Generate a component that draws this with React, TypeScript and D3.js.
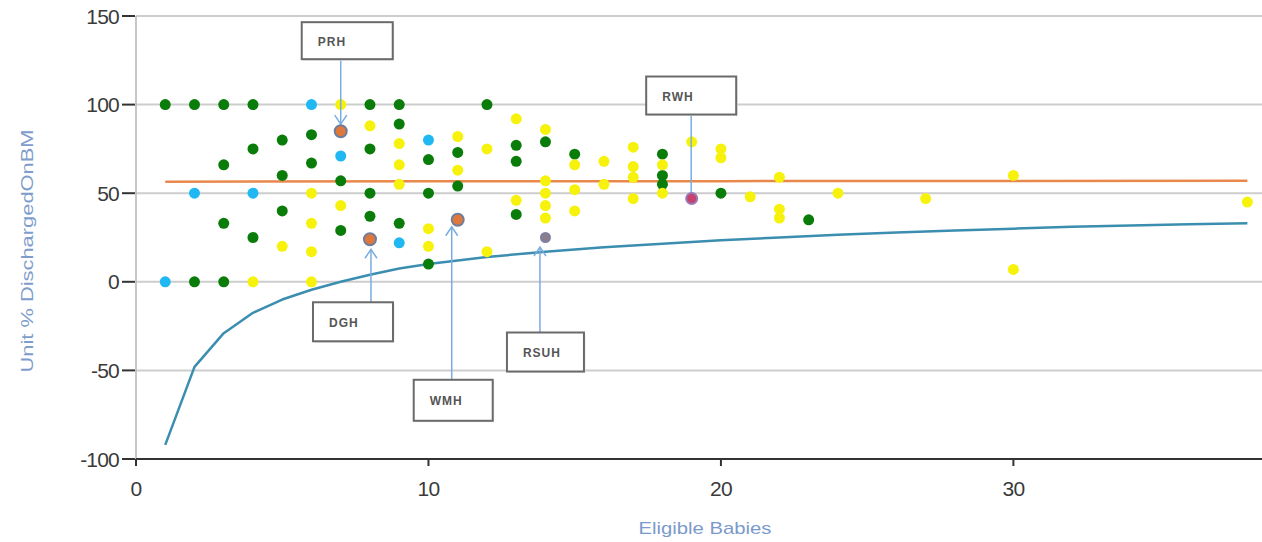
import React from "react";
import * as d3 from "d3";

const W = 1262;
const H = 542;

// ---- data ----
const greenPoints: [number, number][] = [
  [1, 100], [2, 100], [3, 100], [4, 100], [2, 0], [3, 0],
  [3, 66], [3, 33], [4, 75], [4, 25],
  [5, 80], [5, 60], [5, 40],
  [6, 83], [6, 67],
  [7, 57], [7, 29],
  [8, 100], [8, 75], [8, 50], [8, 37],
  [9, 100], [9, 89], [9, 33],
  [10, 69], [10, 50], [10, 10],
  [11, 73], [11, 54],
  [12, 100],
  [13, 77], [13, 68], [13, 38],
  [14, 79],
  [15, 72],
  [18, 72], [18, 60], [18, 55],
  [20, 50],
  [23, 35],
];

const cyanPoints: [number, number][] = [
  [1, 0], [2, 50], [4, 50], [6, 100], [7, 71], [9, 22], [10, 80],
];

const yellowPoints: [number, number][] = [
  [4, 0], [5, 20],
  [6, 50], [6, 33], [6, 17], [6, 0],
  [7, 100], [7, 43],
  [8, 88],
  [9, 78], [9, 66], [9, 55],
  [10, 30], [10, 20],
  [11, 82], [11, 63],
  [12, 75], [12, 17],
  [13, 92], [13, 46],
  [14, 86], [14, 57], [14, 50], [14, 43], [14, 36],
  [15, 66], [15, 52], [15, 40],
  [16, 68], [16, 55],
  [17, 76], [17, 65], [17, 59], [17, 47],
  [18, 66], [18, 50],
  [19, 79],
  [20, 75], [20, 70],
  [21, 48],
  [22, 59], [22, 41], [22, 36],
  [24, 50],
  [27, 47],
  [30, 60], [30, 7],
  [38, 45],
];

const hospitalNames = ["PRH", "DGH", "WMH", "RSUH", "RWH"];
const hospitalX = [7, 8, 11, 14, 19];
const hospitalY = [85, 24, 35, 25, 47];

const meanLine: [number, number][] = [[1, 56.5], [10, 56.8], [20, 56.8], [38, 57]];

const lowerLimit: [number, number][] = [
  [1, -92], [2, -48], [3, -29], [4, -17.5], [5, -10], [6, -4.5], [7, 0],
  [8, 4], [9, 7.5], [10, 10], [12, 14], [14, 17], [16, 19.5], [18, 21.5],
  [20, 23.5], [22, 25], [24, 26.5], [26, 27.8], [28, 29], [30, 30],
  [32, 31], [34, 31.8], [36, 32.5], [38, 33],
];

const yTicks = [-100, -50, 0, 50, 100, 150];
const xTicks = [0, 10, 20, 30];

// ---- layout / styles ----
const hlStyle: Record<string, { fill: string; stroke: string; r: number }> = {
  PRH: { fill: "#e0783c", stroke: "#6f7d9c", r: 6 },
  DGH: { fill: "#e0783c", stroke: "#6f7d9c", r: 6 },
  WMH: { fill: "#e0783c", stroke: "#6f7d9c", r: 6 },
  RSUH: { fill: "#8c7d8e", stroke: "#7d7f9e", r: 4.5 },
  RWH: { fill: "#c8426e", stroke: "#9a78b8", r: 5.5 },
};

// callout layout: line offset from point, box offsets relative to the line x / point y
const callouts: Record<string, { ldx: number; bdx: number; bdy: number; bw: number; bh: number; tip: number; arrow: "down" | "up" | "none" }> = {
  PRH: { ldx: 0, bdx: -39, bdy: -109, bw: 91, bh: 37, tip: -7, arrow: "down" },
  DGH: { ldx: 1, bdx: -58, bdy: 63, bw: 80, bh: 39, tip: 10, arrow: "up" },
  WMH: { ldx: -6, bdx: -38, bdy: 160, bw: 79, bh: 41, tip: 7, arrow: "up" },
  RSUH: { ldx: -5.5, bdx: -33, bdy: 95, bw: 77, bh: 39, tip: 9.5, arrow: "up" },
  RWH: { ldx: -0.5, bdx: -45, bdy: -122, bw: 90, bh: 38, tip: -4, arrow: "none" },
};

const x = d3.scaleLinear().domain([0, 38.5]).range([136, 1262]);
const y = d3.scaleLinear().domain([-100, 150]).range([459, 16]);

const lineGen = d3
  .line<[number, number]>()
  .x((d) => x(d[0]))
  .y((d) => y(d[1]));

const FONT = "'Liberation Sans', Arial, sans-serif";

export default function App() {
  return (
    <svg
      width={W}
      height={H}
      style={{ position: "absolute", left: 0, top: 0, background: "#fff" }}
    >
      <rect x={0} y={0} width={W} height={H} fill="#fff" />
      {/* gridlines */}
      {yTicks
        .filter((t) => t !== -100)
        .map((t) => (
          <line key={"g" + t} x1={x(0)} x2={W} y1={y(t)} y2={y(t)} stroke="#cdcdcd" strokeWidth={2} />
        ))}
      {/* y axis line */}
      <line x1={x(0)} x2={x(0)} y1={y(150)} y2={y(-100)} stroke="#b5b5b5" strokeWidth={1.5} />
      {/* y ticks & labels */}
      {yTicks.map((t) => (
        <g key={"yt" + t}>
          <line x1={122} x2={135} y1={y(t)} y2={y(t)} stroke="#333" strokeWidth={2} />
          <text
            x={119}
            y={y(t) + 7.5}
            textAnchor="end"
            fontFamily={FONT}
            fontSize={21}
            letterSpacing={-0.8}
            fill="#3a3a3a"
          >
            {t}
          </text>
        </g>
      ))}
      {/* x axis */}
      <line x1={x(0)} x2={W} y1={y(-100)} y2={y(-100)} stroke="#333" strokeWidth={2} />
      {xTicks.map((t) => (
        <g key={"xt" + t}>
          <line x1={x(t)} x2={x(t)} y1={y(-100)} y2={y(-100) + 7} stroke="#333" strokeWidth={2} />
          <text
            x={x(t)}
            y={496}
            textAnchor="middle"
            fontFamily={FONT}
            fontSize={21}
            letterSpacing={-0.8}
            fill="#3a3a3a"
          >
            {t}
          </text>
        </g>
      ))}
      {/* axis titles */}
      <text
        x={705}
        y={534}
        textAnchor="middle"
        fontFamily={FONT}
        fontSize={17}
        fill="#7b9acb"
        textLength={133}
        lengthAdjust="spacingAndGlyphs"
      >
        Eligible Babies
      </text>
      <text
        transform="translate(33,251) rotate(-90)"
        textAnchor="middle"
        fontFamily={FONT}
        fontSize={17}
        fill="#7f9dcb"
        textLength={243}
        lengthAdjust="spacingAndGlyphs"
      >
        Unit % DischargedOnBM
      </text>

      {/* lines */}
      <path d={lineGen(lowerLimit) || ""} fill="none" stroke="#3b8eb0" strokeWidth={2.5} strokeLinejoin="round" />
      <path d={lineGen(meanLine) || ""} fill="none" stroke="#e8884c" strokeWidth={2.5} />

      {/* points */}
      {greenPoints.map((d, i) => (
        <circle key={"gp" + i} cx={x(d[0])} cy={y(d[1])} r={5.5} fill="#0a7c0a" />
      ))}
      {cyanPoints.map((d, i) => (
        <circle key={"cp" + i} cx={x(d[0])} cy={y(d[1])} r={5.5} fill="#20b8f2" />
      ))}
      {yellowPoints.map((d, i) => (
        <circle key={"yp" + i} cx={x(d[0])} cy={y(d[1])} r={5.5} fill="#f6f20c" />
      ))}

      {/* callouts */}
      {hospitalNames.map((name, i) => {
        const px = x(hospitalX[i]);
        const py = y(hospitalY[i]);
        const c = callouts[name];
        const lx = px + c.ldx;
        const bx = lx + c.bdx;
        const by = py + c.bdy;
        const tipY = py + c.tip;
        const lineEndY = c.bdy < 0 ? by + c.bh : by;
        const s = hlStyle[name];
        return (
          <g key={"h" + name}>
            <line x1={lx} x2={lx} y1={lineEndY} y2={tipY} stroke="#79ace0" strokeWidth={1.5} />
            {c.arrow === "down" && (
              <path
                d={`M${lx - 6},${tipY - 9} L${lx},${tipY} L${lx + 6},${tipY - 9}`}
                fill="none"
                stroke="#79ace0"
                strokeWidth={1.5}
              />
            )}
            {c.arrow === "up" && (
              <path
                d={`M${lx - 6},${tipY + 9} L${lx},${tipY} L${lx + 6},${tipY + 9}`}
                fill="none"
                stroke="#79ace0"
                strokeWidth={1.5}
              />
            )}
            <circle cx={px} cy={py} r={s.r} fill={s.fill} stroke={s.stroke} strokeWidth={2} />
            <rect x={bx + 1.5} y={by + 1.5} width={c.bw} height={c.bh} fill="#e6e6e6" />
            <rect x={bx} y={by} width={c.bw} height={c.bh} fill="#fff" stroke="#6a6a6a" strokeWidth={2} />
            <text
              x={bx + 16}
              y={by + c.bh / 2 + 5}
              fontFamily={FONT}
              fontWeight="bold"
              fontSize={12}
              letterSpacing={1}
              fill="#555"
            >
              {name}
            </text>
          </g>
        );
      })}
    </svg>
  );
}
